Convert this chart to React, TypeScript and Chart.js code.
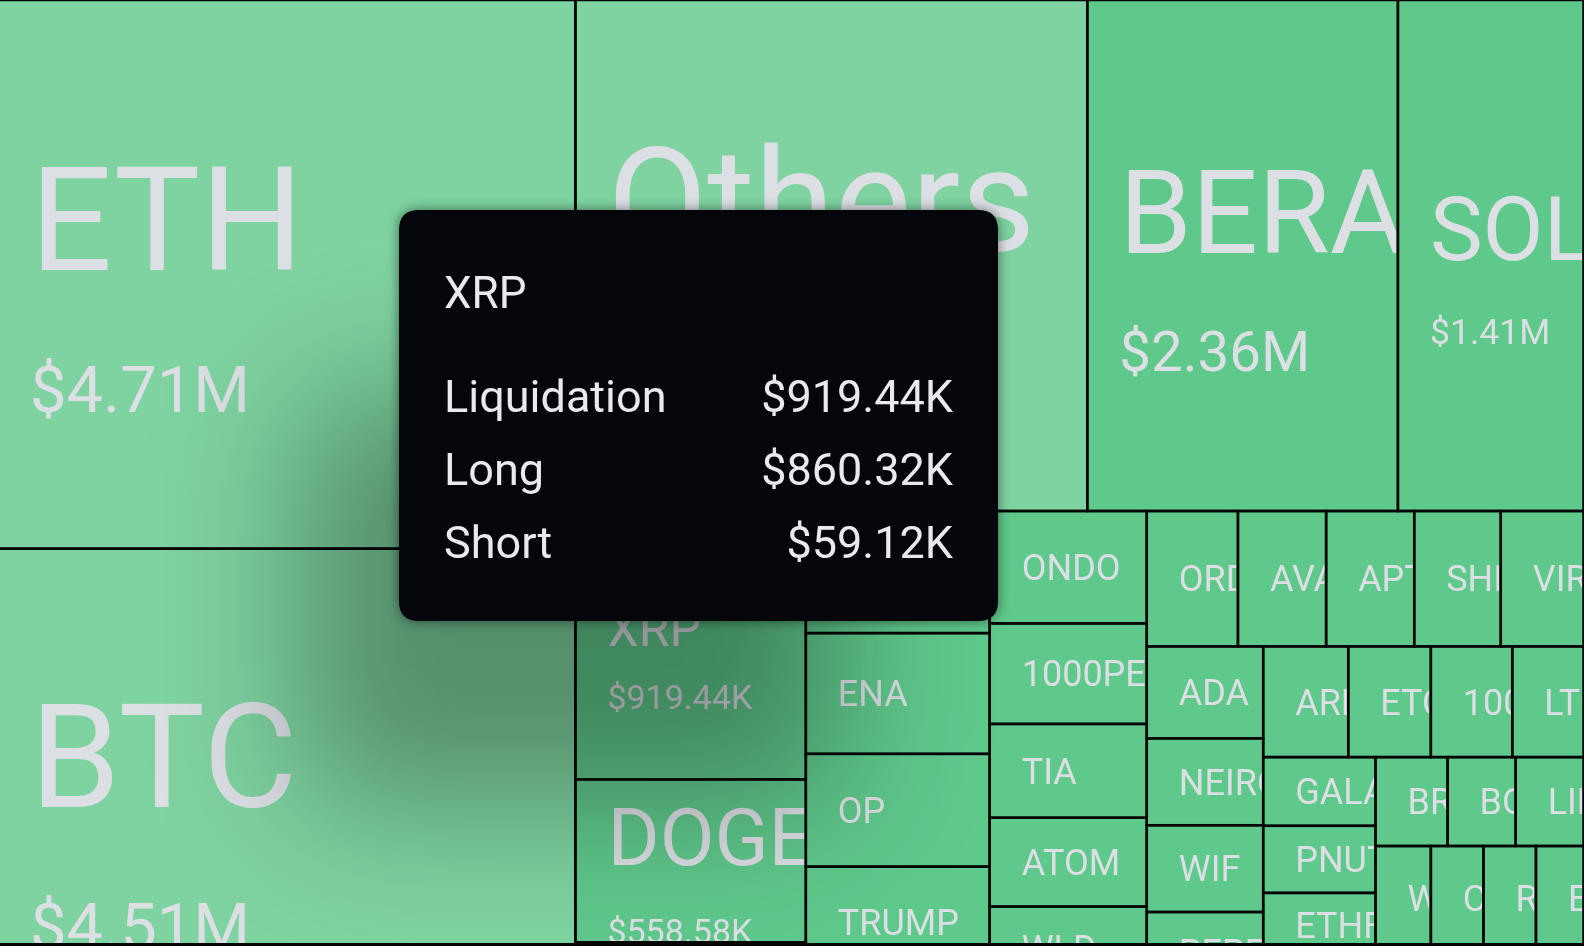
import React, { useEffect, useRef } from 'react';
import { Chart, registerables } from 'chart.js';

Chart.register(...registerables);

// Liquidations by symbol (USD), sorted largest first
const symbols = [
  'ETH', 'BTC', 'Others', 'BERA', 'SOL', 'XRP', 'DOGE', 'SUI', 'AAVE', 'ENA',
  'OP', 'TRUMP', 'NEAR', 'ONDO', '1000PEPE', 'TIA', 'ATOM', 'WLD', 'FIL', 'ORDI',
  'AVAX', 'APT', 'SHIB', 'VIRTUAL', 'ADA', 'NEIRO', 'WIF', 'PEPE', 'HBAR', 'ARB',
  'ETC', '1000BONK', 'LTC', 'GALA', 'PNUT', 'ETHFI', 'SEI', 'INJ', 'BRETT', 'BOME',
  'LINK', 'WOO', 'CRV', 'RUNE', 'EIGEN', 'JUP', 'TAO', 'POPCAT', 'KAITO', 'MOVE',
  'FET', 'S',
];
const liquidations = [
  4710000, 4510000, 3889000, 2360000, 1410000, 919440, 558580, 450800, 333700, 330100,
  308300, 302900, 263800, 262500, 234800, 219100, 207500, 196000, 195000, 183500,
  177500, 177300, 174200, 166500, 159200, 150400, 150200, 140300, 140100, 140000,
  136000, 134000, 117300, 114800, 112100, 106600, 98100, 97900, 95200, 89900,
  89700, 85100, 81000, 80800, 73200, 70000, 66000, 61000, 55000, 48000,
  42700, 42000,
];

// Hovered symbol and its long / short split
const hoveredSymbol = 'XRP';
const hoveredLong = 860320;
const hoveredShort = 59120;

const FONT = 'Roboto, "Noto Sans", sans-serif';
const TEXT = '#dcdfe4';
const BORDER = '#050505';
const FILL_MAJOR = '#7ed3a0';
const FILL_MINOR = '#5fc88b';
const PAD = 32;

// Treemap frame in scale units (the view shows its upper part)
const FRAME = { x0: -2, y0: 0, x1: 1583.5, y1: 1074 };
const SQUARE_RATIO = 1.57;

type Rect = { x0: number; y0: number; x1: number; y1: number };

function squarify(values: number[], frame: Rect, ratio: number): Rect[] {
  const out: Rect[] = new Array(values.length);
  let { x0, y0, x1, y1 } = frame;
  let value = values.reduce((a, b) => a + b, 0);
  const n = values.length;
  let i0 = 0;
  let i1 = 0;
  while (i0 < n) {
    const dx = x1 - x0;
    const dy = y1 - y0;
    let sumValue = values[i1++];
    let minValue = sumValue;
    let maxValue = sumValue;
    const alpha = Math.max(dy / dx, dx / dy) / (value * ratio);
    let beta = sumValue * sumValue * alpha;
    let minRatio = Math.max(maxValue / beta, beta / minValue);
    for (; i1 < n; ++i1) {
      const nv = values[i1];
      sumValue += nv;
      if (nv < minValue) minValue = nv;
      if (nv > maxValue) maxValue = nv;
      beta = sumValue * sumValue * alpha;
      const newRatio = Math.max(maxValue / beta, beta / minValue);
      if (newRatio > minRatio) {
        sumValue -= nv;
        break;
      }
      minRatio = newRatio;
    }
    if (dx < dy) {
      const yy = y0 + (dy * sumValue) / value;
      let x = x0;
      for (let j = i0; j < i1; j++) {
        const w = (dx * values[j]) / sumValue;
        out[j] = { x0: x, y0, x1: x + w, y1: yy };
        x += w;
      }
      y0 = yy;
    } else {
      const xx = x0 + (dx * sumValue) / value;
      let y = y0;
      for (let j = i0; j < i1; j++) {
        const h = (dy * values[j]) / sumValue;
        out[j] = { x0, y0: y, x1: xx, y1: y + h };
        y += h;
      }
      x0 = xx;
    }
    value -= sumValue;
    i0 = i1;
  }
  return out;
}

function money(v: number): string {
  if (v >= 1e6) return `$${(v / 1e6).toFixed(2)}M`;
  return `$${(v / 1e3).toFixed(2)}K`;
}

function roundRect(ctx: CanvasRenderingContext2D, x: number, y: number, w: number, h: number, r: number) {
  ctx.beginPath();
  ctx.moveTo(x + r, y);
  ctx.lineTo(x + w - r, y);
  ctx.quadraticCurveTo(x + w, y, x + w, y + r);
  ctx.lineTo(x + w, y + h - r);
  ctx.quadraticCurveTo(x + w, y + h, x + w - r, y + h);
  ctx.lineTo(x + r, y + h);
  ctx.quadraticCurveTo(x, y + h, x, y + h - r);
  ctx.lineTo(x, y + r);
  ctx.quadraticCurveTo(x, y, x + r, y);
  ctx.closePath();
}

function drawCellLabel(ctx: CanvasRenderingContext2D, r: Rect, name: string, value: number, active: boolean) {
  const w = r.x1 - r.x0;
  const h = r.y1 - r.y0;
  const tx = r.x0 + PAD;
  const cy = (r.y0 + r.y1) / 2;
  ctx.fillStyle = TEXT;
  ctx.textAlign = 'left';
  ctx.textBaseline = 'alphabetic';
  if (h < 150) {
    const f = 36;
    ctx.font = `${f}px ${FONT}`;
    ctx.fillText(name, tx, cy + (0.711 * f) / 2);
    return;
  }
  let L: number;
  let V: number;
  if (active) {
    L = 50;
    V = 34;
  } else {
    ctx.font = `100px ${FONT}`;
    const em = ctx.measureText(name).width / 100;
    L = Math.min(145, (w - 24) / em);
    V = Math.max(34, Math.min(65, 0.75 * L - 31));
  }
  const cap = 0.711 * L;
  const gap = 0.5 * L + V + 4;
  const top = cy + 15 - (cap + gap) / 2;
  const base = top + cap;
  ctx.font = `${L}px ${FONT}`;
  ctx.fillText(name, tx, base);
  ctx.font = `${V}px ${FONT}`;
  ctx.fillText(money(value), tx, base + gap);
}

const treemapPlugin = {
  id: 'liquidationTreemap',
  afterDraw(chart: any) {
    const { ctx, chartArea } = chart;
    const xs = chart.scales.x;
    const ys = chart.scales.y;
    const cells = squarify(liquidations, FRAME, SQUARE_RATIO);
    const active = symbols.indexOf(hoveredSymbol);

    ctx.save();
    ctx.beginPath();
    ctx.rect(chartArea.left, chartArea.top, chartArea.right - chartArea.left, chartArea.bottom - chartArea.top);
    ctx.clip();

    const px: Rect[] = cells.map((c) => ({
      x0: xs.getPixelForValue(c.x0),
      x1: xs.getPixelForValue(c.x1),
      y0: ys.getPixelForValue(c.y0),
      y1: ys.getPixelForValue(c.y1),
    }));

    // cell fills
    px.forEach((r, i) => {
      ctx.fillStyle = liquidations[i] >= 3e6 ? FILL_MAJOR : FILL_MINOR;
      ctx.fillRect(r.x0, r.y0, r.x1 - r.x0, r.y1 - r.y0);
    });

    // labels, clipped to each cell
    px.forEach((r, i) => {
      ctx.save();
      ctx.beginPath();
      ctx.rect(r.x0 + 1.25, r.y0 + 1.25, r.x1 - r.x0 - 2.5, r.y1 - r.y0 - 2.5);
      ctx.clip();
      drawCellLabel(ctx, r, symbols[i], liquidations[i], i === active);
      ctx.restore();
    });

    // borders
    ctx.strokeStyle = BORDER;
    ctx.lineWidth = 2.5;
    px.forEach((r) => {
      ctx.strokeRect(r.x0, r.y0, r.x1 - r.x0, r.y1 - r.y0);
    });

    // bottom edge of the viewport frame
    ctx.fillStyle = BORDER;
    ctx.fillRect(chartArea.left, chartArea.bottom - 3, chartArea.right - chartArea.left, 3);

    // hover tooltip with its soft drop shadow
    const tip = { x: 399, y: 210, w: 599, h: 411 };
    ctx.save();
    ctx.filter = 'blur(70px)';
    ctx.fillStyle = 'rgba(0,0,0,0.32)';
    roundRect(ctx, 300, 395, 540, 410, 60);
    ctx.fill();
    ctx.restore();

    ctx.save();
    ctx.shadowColor = 'rgba(0,0,0,0.5)';
    ctx.shadowBlur = 12;
    ctx.fillStyle = '#05060b';
    roundRect(ctx, tip.x, tip.y, tip.w, tip.h, 20);
    ctx.fill();
    ctx.restore();

    const v = liquidations[active];
    ctx.fillStyle = '#e8eaee';
    ctx.textBaseline = 'alphabetic';
    ctx.textAlign = 'left';
    ctx.font = `44px ${FONT}`;
    ctx.fillText(symbols[active], tip.x + 45, tip.y + 98);
    const rows: [string, number][] = [
      ['Liquidation', v],
      ['Long', hoveredLong],
      ['Short', hoveredShort],
    ];
    ctx.font = `45px ${FONT}`;
    rows.forEach(([label, val], k) => {
      const by = tip.y + 202 + k * 73;
      ctx.textAlign = 'left';
      ctx.fillText(label, tip.x + 45, by);
      ctx.textAlign = 'right';
      ctx.fillText(money(val), tip.x + tip.w - 45, by);
    });

    ctx.restore();
  },
};

export default function App() {
  const canvasRef = useRef<HTMLCanvasElement | null>(null);

  useEffect(() => {
    if (!canvasRef.current) return;
    const chart = new Chart(canvasRef.current, {
      type: 'scatter',
      data: { datasets: [{ data: [] }] },
      options: {
        responsive: false,
        animation: false,
        devicePixelRatio: 1,
        events: [],
        layout: { padding: 0 },
        plugins: { legend: { display: false }, tooltip: { enabled: false } },
        scales: {
          x: { type: 'linear', min: 0, max: 1584, display: false },
          y: { type: 'linear', min: 0, max: 946, reverse: true, display: false },
        },
      },
      plugins: [treemapPlugin],
    });
    return () => chart.destroy();
  }, []);

  return (
    <div style={{ position: 'fixed', left: 0, top: 0, width: 1584, height: 946, overflow: 'hidden', background: FILL_MAJOR }}>
      <canvas ref={canvasRef} width={1584} height={946} style={{ display: 'block' }} />
    </div>
  );
}
